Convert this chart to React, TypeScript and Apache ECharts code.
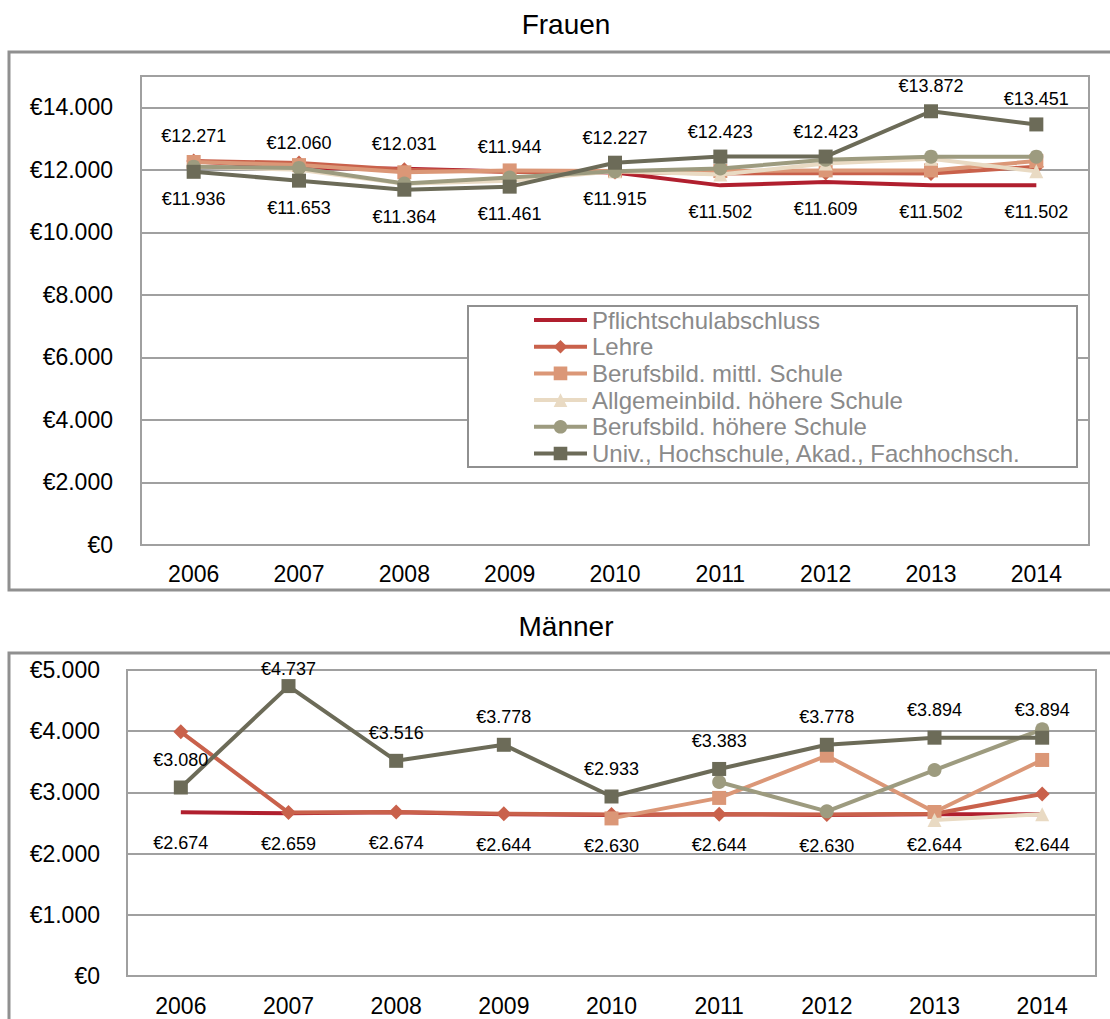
import React, { useEffect, useRef } from "react";
import * as echarts from "echarts";

const years = ["2006", "2007", "2008", "2009", "2010", "2011", "2012", "2013", "2014"];
const seriesNames = [
  "Pflichtschulabschluss",
  "Lehre",
  "Berufsbild. mittl. Schule",
  "Allgemeinbild. höhere Schule",
  "Berufsbild. höhere Schule",
  "Univ., Hochschule, Akad., Fachhochsch.",
];
const colors = ["#B01F2E", "#C9614B", "#DB9777", "#E9DAC3", "#9D9B7F", "#6C6B58"];
const symbols = ["circle", "diamond", "rect", "triangle", "circle", "rect"];
const symbolSizes = [0, 15, 14, 14, 14, 14];

// Frauen
const frauenPflicht = [12271, 12060, 12031, 11944, 11915, 11502, 11609, 11502, 11502];
const frauenLehre = [12280, 12220, 12000, 11930, 11930, 11880, 11900, 11880, 12100];
const frauenMittl = [12250, 12150, 11920, 11980, 11960, 11960, 11980, 11980, 12280];
const frauenAllg = [12100, 12000, 11550, 11650, 11950, 11850, 12200, 12350, 11950];
const frauenBhs = [12100, 12060, 11560, 11750, 11950, 12040, 12320, 12420, 12420];
const frauenUniv = [11936, 11653, 11364, 11461, 12227, 12423, 12423, 13872, 13451];

// Männer
const maennerPflicht = [2674, 2659, 2674, 2644, 2630, 2644, 2630, 2644, 2644];
const maennerLehre = [3990, 2670, 2680, 2650, 2640, 2644, 2640, 2650, 2975];
const maennerMittl = [null, null, null, null, 2575, 2910, 3600, 2680, 3530];
const maennerAllg = [null, null, null, null, null, null, null, 2550, 2644];
const maennerBhs = [null, null, null, null, null, 3170, 2690, 3365, 4030];
const maennerUniv = [3080, 4737, 3516, 3778, 2933, 3383, 3778, 3894, 3894];

const frauenTicks = { min: 0, max: 15000, interval: 2000 };
const maennerTicks = { min: 0, max: 5000, interval: 1000 };

const FONT = "'Liberation Sans', Arial, sans-serif";

function fmt(v: number): string {
  return "€" + String(Math.round(v)).replace(/\B(?=(\d{3})+(?!\d))/g, ".");
}

function buildSeries(
  gridIndex: number,
  sets: (number | null)[][],
  upOffset: number,
  downOffset: number,
  labelTopLimit: number
) {
  const pflicht = sets[0] as number[];
  const univ = sets[5] as number[];
  return sets.map((data, k) => {
    const labeled = k === 0 || k === 5;
    const other = k === 0 ? univ : pflicht;
    const half = symbolSizes[k] / 2;
    const items = data.map((v, i) => {
      if (!labeled || v == null) return v;
      const above = v >= (other[i] as number);
      return {
        value: v,
        label: {
          show: true,
          position: above ? "top" : "bottom",
          distance: (above ? upOffset : downOffset) - 9 - half,
        },
      };
    });
    return {
      type: "line",
      name: seriesNames[k],
      xAxisIndex: gridIndex,
      yAxisIndex: gridIndex,
      data: items,
      symbol: symbols[k],
      symbolSize: symbolSizes[k],
      showSymbol: true,
      connectNulls: false,
      color: colors[k],
      lineStyle: { width: 4, color: colors[k] },
      itemStyle: { color: colors[k] },
      label: {
        show: false,
        color: "#000",
        fontSize: 18,
        fontFamily: FONT,
        formatter: (p: any) => fmt(p.value),
      },
      labelLayout: (p: any) =>
        p.labelRect && p.labelRect.y < labelTopLimit ? { dy: labelTopLimit - p.labelRect.y } : {},
      emphasis: { disabled: true },
      z: 2 + k,
    };
  });
}

export default function App() {
  const ref = useRef<HTMLDivElement>(null);
  useEffect(() => {
    if (!ref.current) return;
    const chart = echarts.init(ref.current, null, { renderer: "svg" });
    const gridLine = { show: true, lineStyle: { color: "#A0A0A0", width: 2 } };
    const xAxisBase = (gridIndex: number, margin: number) => ({
      type: "category",
      gridIndex,
      data: years,
      boundaryGap: true,
      axisLine: { show: true, lineStyle: { color: "#A0A0A0", width: 2 } },
      axisTick: { show: false },
      axisLabel: { color: "#000", fontSize: 23, fontFamily: FONT, margin },
      splitLine: { show: false },
    });
    const yAxisBase = (gridIndex: number, ticks: any, margin: number) => ({
      type: "value",
      gridIndex,
      min: ticks.min,
      max: ticks.max,
      interval: ticks.interval,
      axisLine: { show: false },
      axisTick: { show: false },
      splitLine: gridLine,
      axisLabel: {
        color: "#000",
        fontSize: 23,
        fontFamily: FONT,
        margin,
        formatter: (v: number) => (v % ticks.interval === 0 ? fmt(v) : ""),
      },
    });

    const legendData = seriesNames.map((n, k) =>
      k === 0 ? { name: n, itemStyle: { opacity: 0 } } : { name: n }
    );

    const option: any = {
      animation: false,
      backgroundColor: "#fff",
      grid: [
        { left: 141, top: 76, width: 948, height: 469, show: true, borderColor: "#A0A0A0", borderWidth: 2, backgroundColor: "transparent" },
        { left: 127, top: 670, width: 969, height: 306, show: true, borderColor: "#A0A0A0", borderWidth: 2, backgroundColor: "transparent" },
      ],
      xAxis: [xAxisBase(0, 17), xAxisBase(1, 18)],
      yAxis: [yAxisBase(0, frauenTicks, 28), yAxisBase(1, maennerTicks, 27)],
      legend: {
        data: legendData,
        orient: "vertical",
        left: 532,
        top: 308,
        itemWidth: 53,
        itemHeight: 17,
        itemGap: 2.7,
        padding: 0,
        selectedMode: false,
        lineStyle: { width: 4 },
        textStyle: { color: "#8A8A8A", fontSize: 24, fontFamily: FONT, lineHeight: 24 },
        z: 10,
      },
      graphic: [
        { type: "rect", z: -1, shape: { x: 9, y: 52, width: 1130, height: 538 }, style: { fill: "none", stroke: "#909090", lineWidth: 3 } },
        { type: "rect", z: -1, shape: { x: 9, y: 653, width: 1130, height: 420 }, style: { fill: "none", stroke: "#909090", lineWidth: 3 } },
        { type: "text", x: 566, y: 24, style: { text: "Frauen", fontSize: 28, fontFamily: FONT, fill: "#000", textAlign: "center", textVerticalAlign: "middle" } },
        { type: "text", x: 566, y: 626, style: { text: "Männer", fontSize: 28, fontFamily: FONT, fill: "#000", textAlign: "center", textVerticalAlign: "middle" } },
        { type: "rect", z: 8, shape: { x: 468, y: 306, width: 609, height: 161 }, style: { fill: "#fff", stroke: "#909090", lineWidth: 2 } },
      ],
      series: [
        ...buildSeries(0, [frauenPflicht, frauenLehre, frauenMittl, frauenAllg, frauenBhs, frauenUniv], 25, 27, 0),
        ...buildSeries(1, [maennerPflicht, maennerLehre, maennerMittl, maennerAllg, maennerBhs, maennerUniv], 28, 31, 660),
      ],
    };
    chart.setOption(option);
    return () => chart.dispose();
  }, []);
  return (
    <div
      ref={ref}
      style={{ position: "fixed", left: 0, top: 0, width: 1110, height: 1019, background: "#fff" }}
    />
  );
}
